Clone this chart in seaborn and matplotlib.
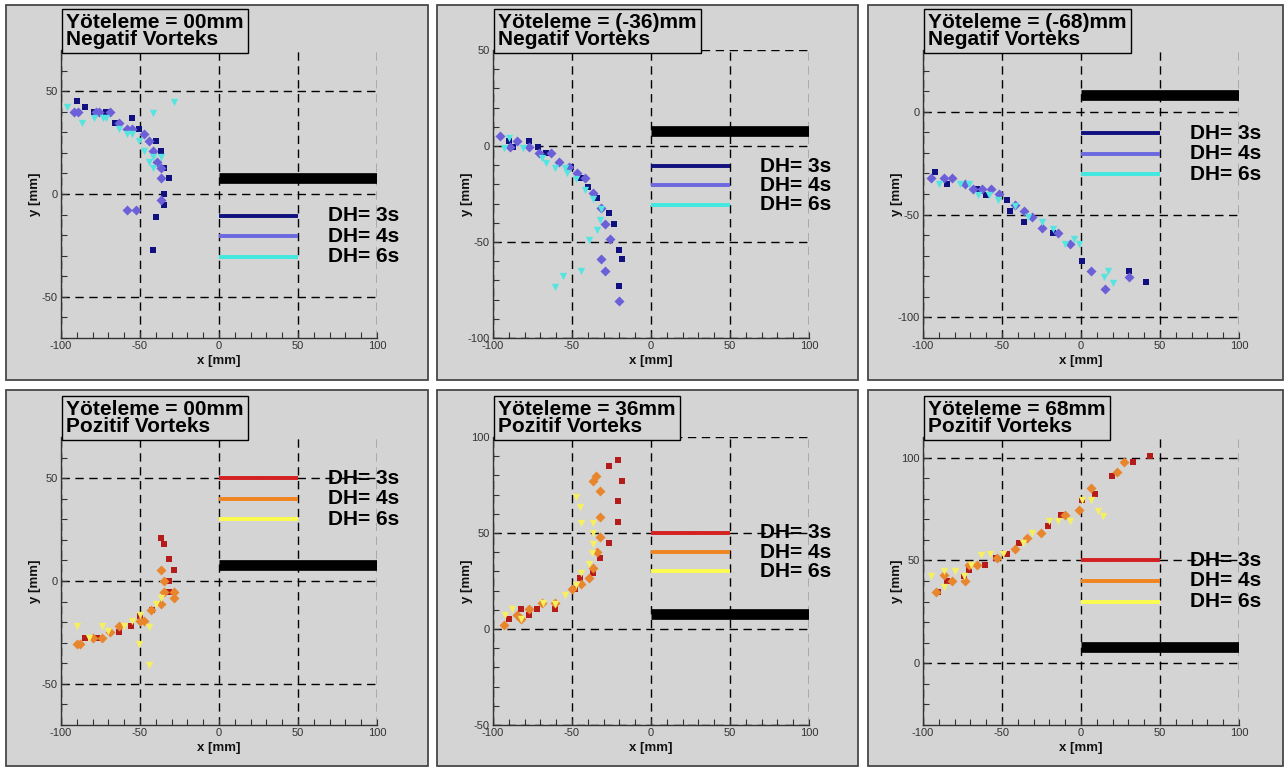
"""
Vorteks merkez konumlari - 6 panel
"""

import numpy as np
import pandas as pd
import matplotlib
matplotlib.use('Agg')
import matplotlib.pyplot as plt
from matplotlib.patches import Rectangle
from matplotlib.ticker import MultipleLocator
import seaborn as sns

sns.set_style('white')
plt.rcParams['font.family'] = ['Liberation Sans', 'DejaVu Sans']
plt.rcParams['axes.unicode_minus'] = False

# ---- veri: negatif vorteks, yoteleme 00mm
n00_dh3_x = [-90, -85, -79, -71.5, -66, -55, -50.5, -40, -37, -34.5, -31.5, -34.5, -34.5, -40, -42]
n00_dh3_y = [45, 42.5, 40, 40, 34.5, 37, 31.5, 26, 21, 12.5, 8, 0, -5.5, -11, -27]
n00_dh4_x = [-92, -89.5, -78, -76, -69, -63, -58, -55, -47.5, -44.5, -42, -39.5, -36.5, -36.5, -36.5, -58, -52.5]
n00_dh4_y = [40, 40, 40, 40, 40, 34.5, 31.5, 31.5, 29, 26, 21, 15.5, 12.5, 8, -3, -8, -8]
n00_dh6_x = [-96, -87, -79, -73.5, -71.5, -63, -58, -55, -50.5, -47.5, -44.5, -42, -42, -36.5, -42, -28.5]
n00_dh6_y = [42.5, 34.5, 37, 37, 37, 31.5, 29, 29, 26, 21, 15.5, 18, 12.5, 18, 39.5, 44.5]

# ---- negatif vorteks, yoteleme -36mm
n36_dh3_x = [-90, -87.5, -77, -71.5, -66.5, -50.5, -44.5, -40, -34, -26.5, -23.5, -20.5, -18.5, -20.5]
n36_dh3_y = [2.5, -0.5, 2.5, -0.5, -3.5, -11, -16.5, -21.5, -27, -35, -40.5, -54, -59, -73]
n36_dh4_x = [-95.5, -89.5, -84.5, -77, -71, -63.5, -58.5, -52, -47, -42, -36.5, -31.5, -29, -26, -31.5, -29, -20.5]
n36_dh4_y = [5, -0.5, 2.5, -0.5, -3.5, -3.5, -8.5, -11, -14, -16.5, -24.5, -32.5, -40.5, -48.5, -59, -65, -80.5]
n36_dh6_x = [-93, -90, -81, -69, -66.5, -61, -54.5, -53, -47.5, -42, -36.5, -31.5, -32, -34, -39.5, -44.5, -55.5, -61]
n36_dh6_y = [-1, 4, -1, -6.5, -9, -11.5, -11.5, -14, -17, -23, -27.5, -33, -38.5, -44, -49, -65, -67.5, -73.5]

# ---- negatif vorteks, yoteleme -68mm
n68_dh3_x = [-92.5, -84.5, -66, -60, -47, -45, -36, -18, 0.5, 30.5, 41]
n68_dh3_y = [-29.5, -35, -37.5, -40.5, -43, -48.5, -53.5, -59, -72.5, -77.5, -83]
n68_dh4_x = [-95, -87, -81.5, -73.5, -68.5, -62.5, -57, -52, -42, -36, -31, -25, -14.5, -7, 6.5, 15, 30.5]
n68_dh4_y = [-32, -32, -32, -35, -37.5, -37.5, -37.5, -40, -45.5, -48.5, -51, -56.5, -59, -64.5, -77.5, -86, -80.5]
n68_dh6_x = [-90, -76.5, -71, -65, -58, -52.5, -41.5, -33.5, -25, -18, -10, -4.5, -1.5, 14.5, 17, 20.5]
n68_dh6_y = [-35, -35, -35, -40.5, -40.5, -43, -46, -51, -53.5, -57, -64.5, -62, -64.5, -80.5, -77.5, -83.5]

# ---- pozitif vorteks, yoteleme 00mm
p00_dh3_x = [-37, -34.5, -31.5, -28.5, -31.5, -31.5, -42.5, -50, -55.5, -63, -77, -85]
p00_dh3_y = [21, 18, 10.5, 5.5, 0, -5.5, -14, -17, -22, -25, -27.5, -27.5]
p00_dh4_x = [-37, -34.5, -34.5, -28.5, -28.5, -37, -43, -50, -47.5, -63, -69, -74, -79.5, -90, -88]
p00_dh4_y = [5.5, 0, -5.5, -5.5, -8.5, -11, -14, -19.5, -19.5, -22, -25, -27.5, -27.5, -30.5, -30.5]
p00_dh6_x = [-36.5, -40, -44.5, -50, -55, -60, -70, -74, -90, -82, -50.5, -44.5]
p00_dh6_y = [-8.5, -11, -22.5, -16.5, -19.5, -22, -24.5, -22, -22, -27.5, -30.5, -41]

# ---- pozitif vorteks, yoteleme 36mm
p36_dh3_x = [-21, -26.5, -18.5, -21, -21, -26.5, -32, -37, -45, -48, -61, -72, -77.5, -82.5, -90]
p36_dh3_y = [88, 85, 77, 66.5, 55.5, 45, 37, 29, 26.5, 21, 10.5, 10.5, 7.5, 10.5, 5]
p36_dh4_x = [-37, -34.5, -32, -32, -32, -34, -36.5, -39.5, -44.5, -50, -61, -69, -77.5, -82.5, -85, -93]
p36_dh4_y = [77, 79.5, 72, 58.5, 48, 40, 32, 26.5, 23.5, 21, 13.5, 13.5, 10.5, 5, 7.5, 2]
p36_dh6_x = [-47.5, -45, -44.5, -37, -37, -37, -37.5, -39.5, -44.5, -47.5, -54.5, -61, -68.5, -88, -92.5, -82.5]
p36_dh6_y = [69, 63.5, 55, 55, 50, 44.5, 39.5, 34, 29, 23, 17.5, 13, 13.5, 10.5, 7.5, 5]

# ---- pozitif vorteks, yoteleme 68mm
p68_dh3_x = [43.5, 33, 19.5, 9, 0.5, -12.5, -21, -39, -47, -53.5, -60.5, -71, -74, -84.5, -90.5]
p68_dh3_y = [101, 98, 91, 82.5, 79.5, 72, 66.5, 58.5, 53, 51, 48, 45.5, 42.5, 40, 34.5]
p68_dh4_x = [27.5, 22.5, 6.5, -1.5, -10, -25.5, -34, -41.5, -53, -66, -71, -73.5, -81.5, -87, -92]
p68_dh4_y = [98, 93, 85, 74.5, 72, 63.5, 61, 55.5, 51, 48, 48, 40, 40, 43, 34.5]
p68_dh6_x = [6.5, 11, 14, 0.5, -7, -14.5, -20.5, -31, -36.5, -49.5, -57.5, -63, -69.5, -79.5, -87, -95, -87, -74]
p68_dh6_y = [79.5, 74, 71.5, 79.5, 69, 69, 69, 63.5, 58.5, 53, 53, 52.5, 48, 45, 45, 42.5, 37, 42.5]

# plaka ve anahtar cizgileri
plate_x = [0, 100]
plate_y = [8, 8]
key_x = [0, 50]
key_y_neg = [-10.5, -20.5, -30.5]
key_y_pos = [50, 40, 30]
key_labels = ['DH= 3s', 'DH= 4s', 'DH= 6s']

# renkler
PANEL_BG = '#d4d4d4'
NEG_COLORS = ['#10107e', '#6b60d8', '#55e4e0']
POS_COLORS = ['#b41c1c', '#e8862e', '#f6f060']
NEG_KEY = ['#10107e', '#6b68e0', '#40e8e0']
POS_KEY = ['#d42020', '#f08420', '#fcfc50']
MARKERS = ['s', 'D', 'v']
SIZES = [22, 26, 28]

W, H = 1287, 769


def fig_box(x0, y0, x1, y1):
    """piksel kutusunu figure koordinatina cevir"""
    return [x0 / W, 1 - y1 / H, (x1 - x0) / W, (y1 - y0) / H]


def draw_panel(ax, title, series, colors, key_y, key_colors, ylim):
    ax.set_facecolor(PANEL_BG)

    for i, (xs, ys) in enumerate(series):
        df = pd.DataFrame({'x': xs, 'y': ys})
        sns.scatterplot(data=df, x='x', y='y', marker=MARKERS[i], color=colors[i],
                        s=SIZES[i], linewidth=0, ax=ax, zorder=4)

    ax.plot(plate_x, plate_y, color='black', lw=7.7, solid_capstyle='butt', zorder=3)
    for yk, c, lab in zip(key_y, key_colors, key_labels):
        ax.plot(key_x, [yk, yk], color=c, lw=2.8, solid_capstyle='butt', zorder=3)
        ax.text(69, yk, lab, fontsize=15, fontweight='bold', color='black',
                va='center', ha='left', zorder=5)

    ax.set_xlim(-100, 100)
    ax.set_ylim(*ylim)
    ax.xaxis.set_major_locator(MultipleLocator(50))
    ax.xaxis.set_minor_locator(MultipleLocator(10))
    ax.yaxis.set_major_locator(MultipleLocator(50))
    ax.yaxis.set_minor_locator(MultipleLocator(10))
    ax.grid(True, which='major', color='black', ls=(0, (6, 4)), lw=1)

    ax.spines['top'].set_visible(False)
    ax.spines['right'].set_visible(False)
    for s in ['left', 'bottom']:
        ax.spines[s].set_color('#333333')
        ax.spines[s].set_linewidth(1)
    ax.tick_params(which='both', direction='in', length=4, width=0.8,
                   colors='#333333', labelsize=8, pad=2.5)
    ax.tick_params(axis='x', which='both', bottom=True)
    ax.tick_params(axis='y', which='both', left=True)

    ax.set_xlabel('x [mm]', fontsize=9.5, fontweight='bold', color='#111111')
    ax.set_ylabel('y [mm]', fontsize=9.5, fontweight='bold', color='#111111')
    ax.xaxis.set_label_coords(0.5, -0.059)
    ax.yaxis.set_label_coords(-0.064, 0.5)

    ax.text(0.017, 1.127, title, transform=ax.transAxes, ha='left', va='top',
            fontsize=15, fontweight='bold', color='black', linespacing=0.86, zorder=6,
            bbox=dict(boxstyle='square,pad=0.2', fc=PANEL_BG, ec='black', lw=1))


fig = plt.figure(figsize=(12.87, 7.69), dpi=100)
fig.patch.set_facecolor('white')

frame_cols = [(6, 428), (437, 858), (868, 1283)]
frame_rows = [(5, 380), (390, 766)]
ax_cols = [61, 493, 923]
ax_rows = [(50, 338), (437, 725)]

panels = [
    ('Yöteleme = 00mm\nNegatif Vorteks', [(n00_dh3_x, n00_dh3_y), (n00_dh4_x, n00_dh4_y), (n00_dh6_x, n00_dh6_y)],
     NEG_COLORS, key_y_neg, NEG_KEY, (-70, 70)),
    ('Yöteleme = (-36)mm\nNegatif Vorteks', [(n36_dh3_x, n36_dh3_y), (n36_dh4_x, n36_dh4_y), (n36_dh6_x, n36_dh6_y)],
     NEG_COLORS, key_y_neg, NEG_KEY, (-100, 50)),
    ('Yöteleme = (-68)mm\nNegatif Vorteks', [(n68_dh3_x, n68_dh3_y), (n68_dh4_x, n68_dh4_y), (n68_dh6_x, n68_dh6_y)],
     NEG_COLORS, key_y_neg, NEG_KEY, (-110, 30)),
    ('Yöteleme = 00mm\nPozitif Vorteks', [(p00_dh3_x, p00_dh3_y), (p00_dh4_x, p00_dh4_y), (p00_dh6_x, p00_dh6_y)],
     POS_COLORS, key_y_pos, POS_KEY, (-70, 70)),
    ('Yöteleme = 36mm\nPozitif Vorteks', [(p36_dh3_x, p36_dh3_y), (p36_dh4_x, p36_dh4_y), (p36_dh6_x, p36_dh6_y)],
     POS_COLORS, key_y_pos, POS_KEY, (-50, 100)),
    ('Yöteleme = 68mm\nPozitif Vorteks', [(p68_dh3_x, p68_dh3_y), (p68_dh4_x, p68_dh4_y), (p68_dh6_x, p68_dh6_y)],
     POS_COLORS, key_y_pos, POS_KEY, (-30, 110)),
]

for k, (title, series, colors, key_y, key_colors, ylim) in enumerate(panels):
    r, c = divmod(k, 3)
    fx0, fx1 = frame_cols[c]
    fy0, fy1 = frame_rows[r]
    fb = fig_box(fx0, fy0, fx1, fy1)
    fig.add_artist(Rectangle((fb[0], fb[1]), fb[2], fb[3], transform=fig.transFigure,
                             fc=PANEL_BG, ec='#484848', lw=1.3, zorder=0))
    ay0, ay1 = ax_rows[r]
    ax = fig.add_axes(fig_box(ax_cols[c], ay0, ax_cols[c] + 316, ay1))
    draw_panel(ax, title, series, colors, key_y, key_colors, ylim)

fig.savefig('out.png', dpi=100, facecolor='white')
plt.close(fig)
